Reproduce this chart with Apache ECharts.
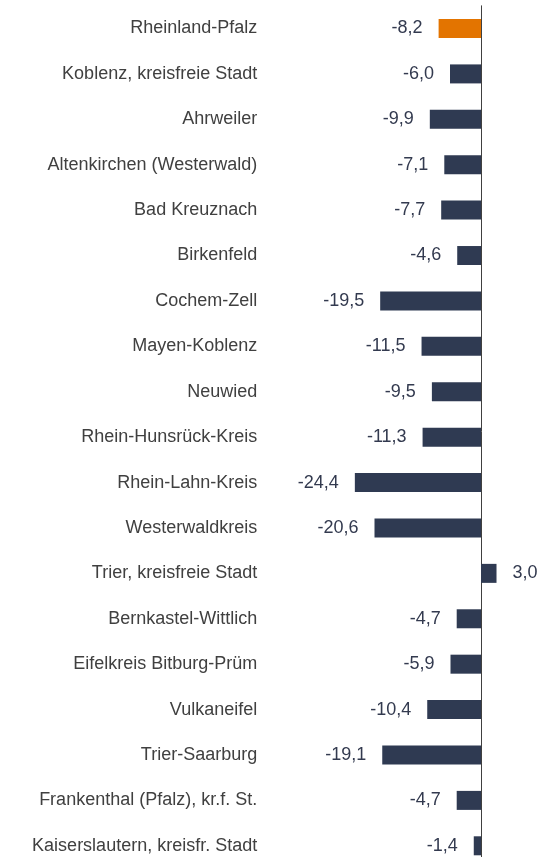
<!DOCTYPE html>
<html>
<head>
<meta charset="utf-8">
<script src="https://cdn.jsdelivr.net/npm/echarts@6/dist/echarts.min.js"></script>
<style>
  html, body { margin: 0; padding: 0; background: #fff; }
  #chart { width: 550px; height: 857px; }
</style>
</head>
<body>
<div id="chart"></div>
<script>
// Regions (top to bottom) and change values in percent
const regions = [
  'Rheinland-Pfalz',
  'Koblenz, kreisfreie Stadt',
  'Ahrweiler',
  'Altenkirchen (Westerwald)',
  'Bad Kreuznach',
  'Birkenfeld',
  'Cochem-Zell',
  'Mayen-Koblenz',
  'Neuwied',
  'Rhein-Hunsrück-Kreis',
  'Rhein-Lahn-Kreis',
  'Westerwaldkreis',
  'Trier, kreisfreie Stadt',
  'Bernkastel-Wittlich',
  'Eifelkreis Bitburg-Prüm',
  'Vulkaneifel',
  'Trier-Saarburg',
  'Frankenthal (Pfalz), kr.f. St.',
  'Kaiserslautern, kreisfr. Stadt'
];
const changes = [-8.2, -6.0, -9.9, -7.1, -7.7, -4.6, -19.5, -11.5, -9.5, -11.3, -24.4, -20.6, 3.0, -4.7, -5.9, -10.4, -19.1, -4.7, -1.4];
const highlighted = ['Rheinland-Pfalz'];

const FONT = 'Liberation Sans, Arial, sans-serif';
const fmt = v => v.toFixed(1).replace('.', ',');

const chart = echarts.init(document.getElementById('chart'), null, { renderer: 'canvas' });

chart.setOption({
  animation: false,
  grid: {
    left: 274.2, right: 17.3, top: 5.8, bottom: -11.5,
    containLabel: false,
    outerBoundsMode: 'none'
  },
  xAxis: {
    type: 'value',
    min: -40,
    max: 10,
    show: false
  },
  yAxis: {
    type: 'category',
    inverse: true,
    data: regions,
    axisLine: { show: true, onZero: true, lineStyle: { color: '#404040', width: 1 } },
    axisTick: { show: false },
    splitLine: { show: false },
    axisLabel: {
      margin: 17,
      color: '#404040',
      fontFamily: FONT,
      fontSize: 18
    }
  },
  series: [{
    type: 'bar',
    barWidth: 19,
    data: changes.map((v, i) => ({
      value: v,
      itemStyle: { color: highlighted.includes(regions[i]) ? '#e37400' : '#2f3a52' },
      label: { position: v < 0 ? 'left' : 'right' }
    })),
    label: {
      show: true,
      distance: 16,
      color: '#333a4f',
      fontFamily: FONT,
      fontSize: 18,
      formatter: p => fmt(p.value)
    }
  }]
});
</script>
</body>
</html>
